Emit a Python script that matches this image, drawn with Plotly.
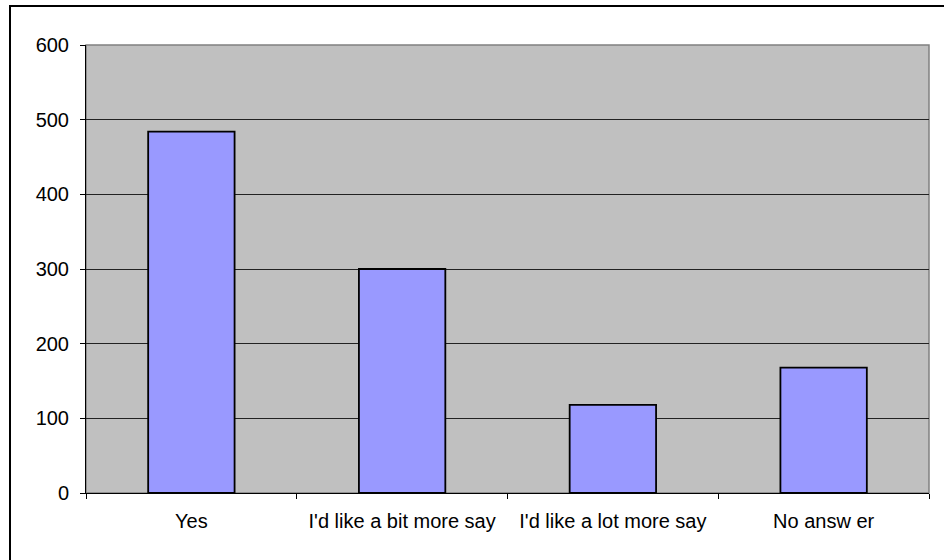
import plotly.graph_objects as go

categories = ["Yes", "I'd like a bit more say", "I'd like a lot more say", "No answ er"]
values = [484, 300, 118, 168]
y_ticks = [0, 100, 200, 300, 400, 500, 600]

W, H = 944, 560
L, R, T, B = 86, 15, 45, 67
pw = W - L - R
ph = H - T - B

def px_x(p):
    return (p - L) / pw

def px_y(p):
    return (H - B - p) / ph

fig = go.Figure()
fig.add_trace(go.Bar(
    x=categories,
    y=values,
    marker=dict(color="#9999FF", line=dict(color="black", width=1.8)),
    hoverinfo="x+y",
))

fig.update_layout(
    width=W, height=H,
    margin=dict(l=L, r=R, t=T, b=B, pad=0),
    paper_bgcolor="white",
    plot_bgcolor="#C0C0C0",
    bargap=0.59,
    showlegend=False,
    font=dict(family="Liberation Sans, Arial, sans-serif", size=20, color="black"),
    xaxis=dict(
        type="category",
        showgrid=False,
        showline=True, linecolor="black", linewidth=1,
        ticks="outside", ticklen=5, tickcolor="black", tickwidth=1,
        tickson="boundaries",
        ticklabelstandoff=10,
        zeroline=False,
    ),
    yaxis=dict(
        range=[0, 600],
        tickvals=y_ticks,
        ticktext=[str(v) for v in y_ticks],
        showgrid=True, gridcolor="#222222", gridwidth=1,
        showline=True, linecolor="black", linewidth=1,
        ticks="outside", ticklen=5, tickcolor="black", tickwidth=1,
        ticklabelstandoff=7,
        zeroline=False,
    ),
    shapes=[
        # plot area border (gray, Excel style)
        dict(type="rect", xref="paper", yref="paper", x0=0, x1=1, y0=0, y1=1,
             line=dict(color="#808080", width=1.5), layer="below"),
        # outer chart border
        dict(type="rect", xref="paper", yref="paper",
             x0=px_x(10), x1=px_x(947), y0=px_y(565), y1=px_y(6),
             line=dict(color="black", width=2), fillcolor="rgba(0,0,0,0)"),
    ],
)

fig.write_html("out.html", config={"displayModeBar": False},
               post_script="document.body.style.margin='0';")
